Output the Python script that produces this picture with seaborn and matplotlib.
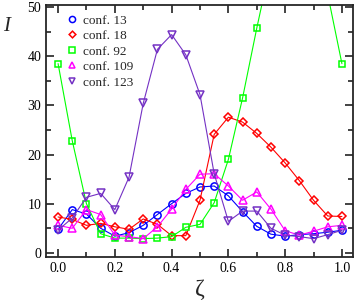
import numpy as np
import pandas as pd
import matplotlib
matplotlib.use('Agg')
import matplotlib.pyplot as plt
import seaborn as sns
from matplotlib.ticker import MultipleLocator

# Data (zeta from 0 to 1 in steps of 0.05)
zeta = [0.00, 0.05, 0.10, 0.15, 0.20, 0.25, 0.30, 0.35, 0.40, 0.45, 0.50,
        0.55, 0.60, 0.65, 0.70, 0.75, 0.80, 0.85, 0.90, 0.95, 1.00]

conf13 = [4.8, 8.8, 7.9, 5.0, 3.4, 4.1, 5.6, 7.8, 10.0, 12.1, 13.4,
          13.6, 11.6, 8.4, 5.4, 3.8, 3.4, 3.7, 3.9, 4.2, 4.6]
conf18 = [7.3, 6.8, 5.6, 6.0, 5.3, 4.8, 6.9, 5.8, 3.5, 3.5, 10.7,
          24.1, 27.6, 26.6, 24.3, 21.5, 18.3, 14.7, 10.7, 7.5, 7.4]
conf92 = [38.5, 22.8, 10.0, 3.9, 3.0, 3.0, 2.9, 3.0, 3.3, 5.2, 5.8,
          10.2, 19.0, 31.5, 45.7, 59.0, 65.0, 66.0, 60.0, 52.6, 38.5]
conf109 = [5.6, 5.0, 8.8, 7.8, 3.6, 3.3, 2.9, 5.3, 8.9, 12.9, 16.0,
           16.1, 13.6, 10.7, 12.4, 8.9, 4.5, 3.6, 4.4, 5.3, 5.6]
conf123 = [4.6, 7.1, 11.3, 12.1, 8.8, 15.4, 30.4, 41.4, 44.4, 40.3, 32.2,
           16.1, 6.4, 8.5, 8.5, 5.0, 3.6, 3.3, 2.9, 3.7, 4.6]

labels = ['conf. 13', 'conf. 18', 'conf. 92', 'conf. 109', 'conf. 123']
colors = ['#0000ff', '#ff0000', '#00ff00', '#ff00ff', '#7431c4']
markers = ['o', 'D', 's', '^', 'v']
msizes = [5.2, 4.0, 4.8, 5.5, 5.5]

series = [conf13, conf18, conf92, conf109, conf123]

sns.set_style('ticks')
plt.rcParams['font.family'] = ['Liberation Serif', 'DejaVu Serif']

fig = plt.figure(figsize=(3.55, 3.0), dpi=100)
ax = fig.add_axes([0.130, 0.144, 0.8635, 0.839])

for vals, lab, col, mk, ms in zip(series, labels, colors, markers, msizes):
    df = pd.DataFrame({'zeta': zeta, 'I': vals})
    sns.lineplot(data=df, x='zeta', y='I', ax=ax, color=col, linewidth=0.8,
                 marker=mk, markersize=ms, markeredgecolor=col,
                 markerfacecolor='none', markeredgewidth=1.1, label=lab)

ax.set_xlim(-0.042, 1.038)
ax.set_ylim(-0.8, 50.4)
ax.xaxis.set_major_locator(MultipleLocator(0.2))
ax.xaxis.set_minor_locator(MultipleLocator(0.1))
ax.yaxis.set_major_locator(MultipleLocator(10))
ax.yaxis.set_minor_locator(MultipleLocator(5))
ax.tick_params(which='both', direction='in', top=True, right=True,
               labelsize=10, colors='#222222', labelcolor='black')
ax.tick_params(which='major', length=6, width=1.2)
ax.tick_params(which='minor', length=3.5, width=1.2)
ax.xaxis.set_major_formatter(matplotlib.ticker.FormatStrFormatter('%.1f'))
for sp in ax.spines.values():
    sp.set_linewidth(1.3)

ax.set_xlabel('ζ', fontsize=17, labelpad=3)
ax.set_ylabel('I', rotation=0, fontsize=15, style='italic', va='center')
ax.yaxis.set_label_coords(-0.128, 0.915)

leg = ax.legend(loc='upper left', bbox_to_anchor=(0.045, 0.995), frameon=False,
                fontsize=9.5, handlelength=0.7, handletextpad=0.45,
                labelspacing=0.25, borderaxespad=0.2, markerscale=0.85)
for h in leg.legend_handles:
    h.set_linestyle('none')

fig.savefig('out.png', dpi=100)
